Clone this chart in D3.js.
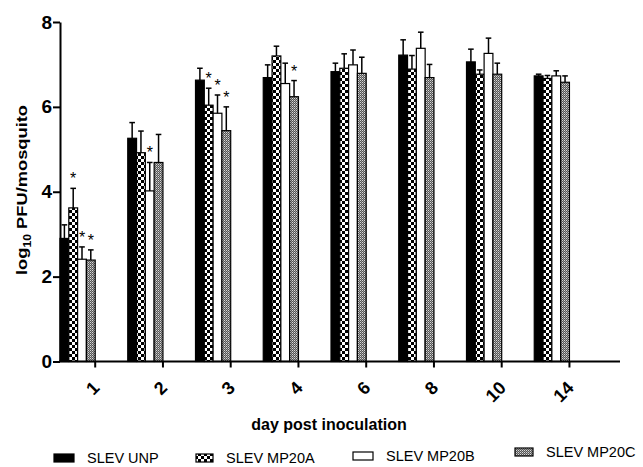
<!DOCTYPE html>
<html>
<head>
<meta charset="utf-8">
<script src="https://cdn.jsdelivr.net/npm/d3@7"></script>
<style>
  html, body { margin: 0; padding: 0; background: #fff; }
  svg { display: block; }
  text { font-family: "Liberation Sans", Arial, Helvetica, sans-serif; fill: #000; }
</style>
</head>
<body>
<svg id="chart" width="643" height="467"></svg>
<script>
// ---------------- data ----------------
const days = ["1", "2", "3", "4", "6", "8", "10", "14"];
const seriesNames = ["SLEV UNP", "SLEV MP20A", "SLEV MP20B", "SLEV MP20C"];

const unpMean   = [2.90, 5.26, 6.63, 6.69, 6.83, 7.22, 7.06, 6.73];
const unpErr    = [0.32, 0.37, 0.28, 0.30, 0.20, 0.36, 0.30, 0.04];
const mp20aMean = [3.62, 4.92, 6.04, 7.20, 6.91, 6.89, 6.77, 6.67];
const mp20aErr  = [0.46, 0.51, 0.40, 0.23, 0.34, 0.32, 0.10, 0.07];
const mp20bMean = [2.41, 4.02, 5.85, 6.55, 6.99, 7.38, 7.26, 6.73];
const mp20bErr  = [0.29, 0.67, 0.43, 0.48, 0.35, 0.38, 0.36, 0.12];
const mp20cMean = [2.39, 4.69, 5.44, 6.24, 6.79, 6.69, 6.77, 6.58];
const mp20cErr  = [0.24, 0.66, 0.56, 0.38, 0.38, 0.31, 0.26, 0.15];

// significance markers: [day, series]
const sigDays   = ["1", "1", "1", "2", "3", "3", "3", "4"];
const sigSeries = ["SLEV MP20A", "SLEV MP20B", "SLEV MP20C", "SLEV MP20B",
                   "SLEV MP20A", "SLEV MP20B", "SLEV MP20C", "SLEV MP20C"];

const yTicks = [0, 2, 4, 6, 8];
const yTitle = "log";
const yTitleSub = "10";
const yTitleRest = " PFU/mosquito";
const xTitle = "day post inoculation";

// ---------------- build ----------------
const means = [unpMean, mp20aMean, mp20bMean, mp20cMean];
const errs  = [unpErr, mp20aErr, mp20bErr, mp20cErr];
const rows = [];
days.forEach((d, i) => seriesNames.forEach((s, j) => {
  rows.push({ day: d, series: s, si: j, value: means[j][i], err: errs[j][i] });
}));

const svg = d3.select("#chart");

const x0 = 60, x1 = 602, xAxisEnd = 620;
const groupW = 35.2;
const x = d3.scaleBand().domain(days).range([x0, x1]).paddingInner(0).paddingOuter(0);
const xs = d3.scaleBand().domain(seriesNames).range([0, groupW]).padding(0);
const shift = groupW - x.bandwidth() / 2;
const xTick = x.copy().range([x0 + shift, x1 + shift]);
const y = d3.scaleLinear().domain([0, 8]).range([361.5, 22]);

// patterns
const defs = svg.append("defs");
const chk = defs.append("pattern").attr("id", "checker")
  .attr("patternUnits", "userSpaceOnUse").attr("width", 6).attr("height", 6);
chk.append("rect").attr("width", 6).attr("height", 6).attr("fill", "#000");
chk.append("rect").attr("x", 0).attr("y", 0).attr("width", 3).attr("height", 3).attr("fill", "#fff");
chk.append("rect").attr("x", 3).attr("y", 3).attr("width", 3).attr("height", 3).attr("fill", "#fff");

const gry = defs.append("pattern").attr("id", "grayfill")
  .attr("patternUnits", "userSpaceOnUse").attr("width", 2).attr("height", 2);
gry.append("rect").attr("width", 2).attr("height", 2).attr("fill", "#555");
gry.append("rect").attr("x", 0).attr("y", 0).attr("width", 1).attr("height", 1).attr("fill", "#d8d8d8");
gry.append("rect").attr("x", 1).attr("y", 1).attr("width", 1).attr("height", 1).attr("fill", "#999");

const fills = d3.scaleOrdinal().domain(seriesNames)
  .range(["#000", "url(#checker)", "#fff", "url(#grayfill)"]);

// bars
svg.append("g").selectAll("rect").data(rows).join("rect")
  .attr("x", d => x(d.day) + xs(d.series))
  .attr("y", d => y(d.value))
  .attr("width", xs.bandwidth())
  .attr("height", d => y(0) - y(d.value))
  .attr("fill", d => fills(d.series))
  .attr("stroke", "#000")
  .attr("stroke-width", 1.2);

// error bars (upper only)
const eb = svg.append("g").attr("stroke", "#000").attr("stroke-width", 1.5);
eb.selectAll("line.v").data(rows).join("line").attr("class", "v")
  .attr("x1", d => x(d.day) + xs(d.series) + xs.bandwidth() / 2)
  .attr("x2", d => x(d.day) + xs(d.series) + xs.bandwidth() / 2)
  .attr("y1", d => y(d.value))
  .attr("y2", d => y(d.value + d.err));
eb.selectAll("line.c").data(rows).join("line").attr("class", "c")
  .attr("x1", d => x(d.day) + xs(d.series) + xs.bandwidth() / 2 - 2.8)
  .attr("x2", d => x(d.day) + xs(d.series) + xs.bandwidth() / 2 + 2.8)
  .attr("y1", d => y(d.value + d.err))
  .attr("y2", d => y(d.value + d.err));

// significance stars
const sigRows = sigDays.map((d, k) => rows.find(r => r.day === d && r.series === sigSeries[k]));
svg.append("g").selectAll("text").data(sigRows).join("text")
  .attr("x", d => x(d.day) + xs(d.series) + xs.bandwidth() / 2)
  .attr("y", d => y(d.value + d.err) - 4)
  .attr("text-anchor", "middle")
  .attr("font-size", 16)
  .text("*");

// y axis
const yAxis = svg.append("g").attr("transform", `translate(${x0},0)`)
  .call(d3.axisLeft(y).tickValues(yTicks).tickSize(7).tickSizeOuter(0).tickPadding(1)
    .tickFormat(d3.format("d")));
yAxis.select(".domain").attr("stroke-width", 2);
yAxis.selectAll(".tick line").attr("stroke-width", 2);
yAxis.selectAll(".tick text").attr("font-size", 19).attr("font-weight", "bold")
  .attr("font-family", "'Liberation Sans', Arial, sans-serif");

// x axis
const xAxis = svg.append("g").attr("transform", `translate(0,${y(0)})`)
  .call(d3.axisBottom(xTick).tickSize(6).tickSizeOuter(0));
xAxis.select(".domain").remove();
xAxis.selectAll(".tick line").attr("stroke-width", 2);
xAxis.selectAll(".tick text")
  .attr("font-size", 18).attr("font-weight", "bold")
  .attr("font-family", "'Liberation Sans', Arial, sans-serif")
  .attr("text-anchor", "end")
  .attr("y", 0).attr("x", 0).attr("dy", "0.35em")
  .attr("transform", "translate(1,23) rotate(-45)");
svg.append("line")
  .attr("x1", x0 - 1).attr("x2", xAxisEnd)
  .attr("y1", y(0)).attr("y2", y(0))
  .attr("stroke", "#000").attr("stroke-width", 2);

// axis titles
svg.append("text")
  .attr("x", 329).attr("y", 430)
  .attr("text-anchor", "middle")
  .attr("font-size", 16).attr("font-weight", "bold")
  .text(xTitle);

const yt = svg.append("text")
  .attr("transform", "translate(27,190) rotate(-90) scale(1.22,1)")
  .attr("text-anchor", "middle")
  .attr("font-size", 15).attr("font-weight", "bold");
yt.append("tspan").text(yTitle);
yt.append("tspan").attr("font-size", 10).attr("dy", 4).text(yTitleSub);
yt.append("tspan").attr("dy", -4).text(yTitleRest);

// legend
const legX = [54, 196, 353, 515];
const legW = [20, 17, 20, 18];
const legBase = [463, 463, 461, 457];
const leg = svg.append("g").selectAll("g").data(seriesNames).join("g");
leg.append("rect")
  .attr("x", (d, i) => legX[i])
  .attr("y", (d, i) => legBase[i] - 9)
  .attr("width", (d, i) => legW[i])
  .attr("height", 8)
  .attr("fill", d => fills(d))
  .attr("stroke", "#000").attr("stroke-width", 1.2);
leg.append("text")
  .attr("x", (d, i) => legX[i] + legW[i] + 13)
  .attr("y", (d, i) => legBase[i])
  .attr("font-size", 14.5)
  .text(d => d);
</script>
</body>
</html>
